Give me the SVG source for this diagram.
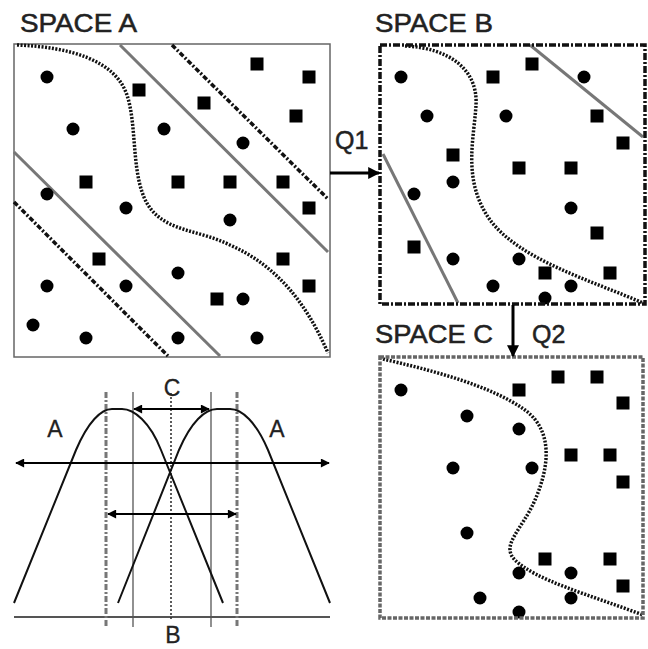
<svg xmlns="http://www.w3.org/2000/svg" width="648" height="649" viewBox="0 0 648 649">
<defs>
<style>
.t{font-family:"Liberation Sans",Arial,sans-serif;font-size:25px;fill:#222;stroke:#222;stroke-width:0.5}
.l{font-family:"Liberation Sans",Arial,sans-serif;font-size:23px;fill:#222;stroke:#222;stroke-width:0.3}
.dot{fill:#000}
.sq{fill:#000}
.dotted{fill:none;stroke:#111;stroke-width:3.5;stroke-dasharray:2 1.5}
.dashdot{fill:none;stroke:#111;stroke-width:3.5;stroke-dasharray:5 2 2 2}
.gray{fill:none;stroke:#777;stroke-width:3}
.arr{fill:none;stroke:#000;stroke-width:3}
.arr2{fill:none;stroke:#000;stroke-width:2.2}
</style>
<marker id="ah" viewBox="0 0 10 10" refX="9" refY="5" markerWidth="12" markerHeight="12" markerUnits="userSpaceOnUse" orient="auto-start-reverse">
<path d="M0,0 L10,5 L0,10 z" fill="#000"/>
</marker>
<marker id="ah2" viewBox="0 0 10 10" refX="9" refY="5" markerWidth="11" markerHeight="9" markerUnits="userSpaceOnUse" orient="auto-start-reverse">
<path d="M0,0 L10,5 L0,10 z" fill="#000"/>
</marker>
<symbol id="c" overflow="visible"><circle cx="0" cy="0" r="6.5"/></symbol>
<symbol id="s" overflow="visible"><rect x="-6.5" y="-6.5" width="13" height="13"/></symbol>
</defs>
<rect width="648" height="649" fill="#fff"/>

<g id="spaceA">
<text class="t" x="20" y="32" textLength="117" lengthAdjust="spacingAndGlyphs">SPACE A</text>
<rect x="14" y="44" width="316" height="313" fill="none" stroke="#666" stroke-width="1.5"/>
<line class="dashdot" x1="172" y1="45" x2="328" y2="199"/>
<line class="gray" x1="120" y1="45" x2="328" y2="252"/>
<line class="gray" x1="14" y1="152" x2="220" y2="356"/>
<line class="dashdot" x1="14" y1="202" x2="168" y2="356"/>
<path class="dotted" d="M17,45 C70,47 115,60 127,95 C138,128 130,180 150,208 C168,232 200,230 230,245 C275,265 305,300 328,353"/>
<g class="dot">
<use href="#c" x="47" y="77"/><use href="#c" x="73" y="129"/><use href="#c" x="164" y="129"/><use href="#c" x="243" y="143"/>
<use href="#c" x="47" y="194"/><use href="#c" x="126" y="208"/><use href="#c" x="230" y="220"/><use href="#c" x="178" y="273"/>
<use href="#c" x="47" y="286"/><use href="#c" x="126" y="286"/><use href="#c" x="243" y="299"/><use href="#c" x="33" y="325"/>
<use href="#c" x="86" y="338"/><use href="#c" x="178" y="338"/><use href="#c" x="257" y="338"/>
</g>
<g class="sq">
<use href="#s" x="257" y="64"/><use href="#s" x="309" y="77"/><use href="#s" x="139" y="90"/><use href="#s" x="204" y="103"/>
<use href="#s" x="296" y="116"/><use href="#s" x="86" y="182"/><use href="#s" x="178" y="182"/><use href="#s" x="230" y="182"/>
<use href="#s" x="283" y="182"/><use href="#s" x="309" y="208"/><use href="#s" x="99" y="259"/><use href="#s" x="283" y="259"/>
<use href="#s" x="309" y="286"/><use href="#s" x="217" y="299"/>
</g>
</g>

<g id="spaceB">
<text class="t" x="375" y="32" textLength="118" lengthAdjust="spacingAndGlyphs">SPACE B</text>
<line class="gray" x1="530" y1="45" x2="643" y2="137"/>
<line class="gray" x1="383" y1="154" x2="458" y2="303"/>
<path class="dotted" d="M405,46 C450,48 478,70 476,105 C474,140 462,180 490,220 C520,260 590,280 643,303"/>
<g class="dot">
<use href="#c" x="401" y="77"/><use href="#c" x="427" y="116"/><use href="#c" x="506" y="116"/><use href="#c" x="584" y="77"/>
<use href="#c" x="453" y="182"/><use href="#c" x="414" y="194"/><use href="#c" x="571" y="208"/><use href="#c" x="453" y="259"/>
<use href="#c" x="519" y="259"/><use href="#c" x="493" y="286"/><use href="#c" x="571" y="286"/><use href="#c" x="545" y="298"/>
</g>
<g class="sq">
<use href="#s" x="532" y="64"/><use href="#s" x="493" y="77"/><use href="#s" x="597" y="116"/><use href="#s" x="623" y="143"/>
<use href="#s" x="453" y="155"/><use href="#s" x="519" y="168"/><use href="#s" x="571" y="168"/><use href="#s" x="597" y="233"/>
<use href="#s" x="414" y="247"/><use href="#s" x="545" y="273"/><use href="#s" x="610" y="273"/>
</g>
<rect x="380" y="45" width="265" height="259" fill="none" stroke="#111" stroke-width="3.5" stroke-dasharray="7 2 2 2"/>
</g>

<g id="spaceC">
<text class="t" x="375" y="343" textLength="118" lengthAdjust="spacingAndGlyphs">SPACE C</text>
<path class="dotted" d="M383,359 C430,370 490,385 525,410 C555,432 548,470 535,500 C522,530 500,545 515,560 C535,580 590,595 643,615"/>
<g class="dot">
<use href="#c" x="401" y="390"/><use href="#c" x="467" y="416"/><use href="#c" x="519" y="429"/><use href="#c" x="453" y="468"/>
<use href="#c" x="532" y="468"/><use href="#c" x="467" y="533"/><use href="#c" x="519" y="573"/><use href="#c" x="571" y="573"/>
<use href="#c" x="480" y="598"/><use href="#c" x="571" y="598"/><use href="#c" x="519" y="612"/>
</g>
<g class="sq">
<use href="#s" x="558" y="377"/><use href="#s" x="597" y="377"/><use href="#s" x="519" y="390"/><use href="#s" x="623" y="403"/>
<use href="#s" x="571" y="455"/><use href="#s" x="610" y="455"/><use href="#s" x="623" y="482"/><use href="#s" x="545" y="559"/>
<use href="#s" x="610" y="559"/><use href="#s" x="623" y="586"/>
</g>
<rect x="380" y="357" width="263" height="261" fill="none" stroke="#666" stroke-width="3.5" stroke-dasharray="4 1.5"/>
</g>

<g id="graph">
<line x1="14" y1="617" x2="330" y2="617" stroke="#555" stroke-width="2"/>
<line x1="106" y1="392" x2="106" y2="627" stroke="#777" stroke-width="3" stroke-dasharray="6 2 2 2"/>
<line x1="237" y1="392" x2="237" y2="627" stroke="#777" stroke-width="3" stroke-dasharray="6 2 2 2"/>
<line x1="133" y1="392" x2="133" y2="627" stroke="#555" stroke-width="1.3"/>
<line x1="211" y1="392" x2="211" y2="627" stroke="#555" stroke-width="1.3"/>
<line x1="171" y1="393" x2="171" y2="620" stroke="#333" stroke-width="1.6" stroke-dasharray="2 2"/>
<path d="M14,603 L76,450 C88,422 101,409 112,409 L122,409 C134,409 150,422 161,450 L223,603" fill="none" stroke="#111" stroke-width="2"/>
<path d="M118,603 L179,450 C191,422 205,409 217,409 L230,409 C242,409 256,422 268,450 L330,603" fill="none" stroke="#111" stroke-width="2"/>
<text class="l" x="55" y="437" text-anchor="middle">A</text>
<text class="l" x="277" y="437" text-anchor="middle">A</text>
<text class="l" x="172" y="396" text-anchor="middle">C</text>
<text class="l" x="173" y="643" text-anchor="middle">B</text>
</g>

<g id="connectors">
<line class="arr" x1="330" y1="173" x2="379" y2="173" marker-end="url(#ah)"/>
<text class="t" x="335" y="149">Q1</text>
<line class="arr" x1="513" y1="305" x2="513" y2="356" marker-end="url(#ah)"/>
<text class="t" x="532" y="343">Q2</text>
<line class="arr2" x1="16" y1="463" x2="329" y2="463" marker-start="url(#ah2)" marker-end="url(#ah2)"/>
<line class="arr2" x1="108" y1="514" x2="236" y2="514" marker-start="url(#ah2)" marker-end="url(#ah2)"/>
<line class="arr2" x1="134" y1="409" x2="209" y2="409" marker-start="url(#ah2)" marker-end="url(#ah2)"/>
</g>
</svg>
